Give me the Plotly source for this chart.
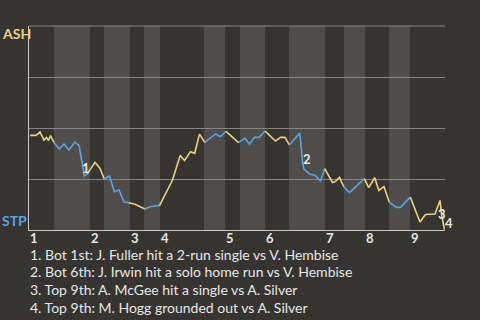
import plotly.graph_objects as go
from bisect import bisect_right

# ---- data ----
teams = ["ASH", "STP"]
# game progress (plate-appearance scale) and ASH win probability (%)
progress = [1, 7, 11, 15, 17.5, 19.5, 21.5, 25, 30.3, 35, 40, 46, 50, 53.3, 55.3, 58.3,
            66, 71, 75.3, 80.5, 85.3, 90, 95, 99.7, 106, 116, 121, 130.5, 143.5, 151.2,
            155.5, 161.5, 165.7, 170.5, 175.8, 186.5, 191, 197, 209.5, 216, 220.5, 225.5,
            230, 236, 246.5, 251.5, 256, 260.3, 270.8, 273.5, 275, 280.5, 286, 291.5,
            295.7, 303.5, 306.3, 310.5, 314.8, 320.5, 335.3, 339.7, 345.7, 349.8, 355,
            360.3, 367.5, 371.5, 381.3, 391, 396.5, 406, 411, 412.8, 415.5]
ash_wp = [46.4, 46.4, 48.0, 44.1, 45.3, 43.9, 46.3, 42.9, 39.7, 42.2, 39.2, 43.1, 41.5,
          32.4, 26.5, 27.5, 33.2, 30.2, 25.0, 26.5, 18.8, 19.6, 13.7, 13.4, 12.6, 10.3,
          11.4, 12.0, 24.5, 36.5, 34.1, 38.4, 37.6, 47.0, 42.9, 47.1, 45.7, 48.3, 42.8,
          45.0, 42.1, 45.4, 45.4, 48.5, 43.6, 45.4, 45.4, 41.7, 47.5, 33.5, 29.8, 27.5,
          26.8, 24.0, 30.1, 23.3, 23.7, 25.8, 21.2, 18.3, 25.2, 20.8, 25.6, 19.4, 21.3,
          13.6, 11.1, 11.1, 16.1, 3.9, 7.6, 7.8, 14.5, 6.9, 0.2]
# start of each half inning (top 1st, bot 1st, top 2nd, ...) on the progress scale
half_starts = [0, 25, 61, 75, 101, 115, 131, 175, 196, 211, 236, 260, 296, 315, 336, 360, 381]
game_end = 416
innings = ["1", "2", "3", "4", "5", "6", "7", "8", "9"]
event_points = [15, 49, 73, 74]
event_labels = ["1", "2", "3", "4"]
event_texts = [
    "1. Bot 1st: J. Fuller hit a 2-run single vs V. Hembise",
    "2. Bot 6th: J. Irwin hit a solo home run vs V. Hembise",
    "3. Top 9th: A. McGee hit a single vs A. Silver",
    "4. Top 9th: M. Hogg grounded out vs A. Silver",
]

# ---- style ----
BG = "#363430"
BAND = "#4e4d4b"
YELLOW = "#ecd07f"
BLUE = "#5ca3dc"
GRID = "#858585"
AXIS = "#c8c8c8"
TXT = "#e6e6e6"
FONT = "Lato"
team_colors = [YELLOW, BLUE]
event_shift = [(-1, 6), (4, 3), (0, 2), (4, 7)]

fig = go.Figure()

# segment colours follow the batting team of the half inning
def team_of(x):
    return (bisect_right(half_starts, x) - 1) % 2

runs = []
for k in range(1, len(progress)):
    t = team_of((progress[k - 1] + progress[k]) / 2)
    if runs and runs[-1][0] == t:
        runs[-1][2] = k
    else:
        runs.append([t, k - 1, k])

for t, a, b in runs:
    fig.add_trace(go.Scatter(
        x=progress[a:b + 1], y=ash_wp[a:b + 1], mode="lines",
        line=dict(color=team_colors[t], width=1.6), hoverinfo="skip", showlegend=False))

# bottom-half shading
shapes = []
bounds = half_starts + [game_end]
for i in range(1, len(half_starts), 2):
    shapes.append(dict(type="rect", xref="x", yref="paper", x0=bounds[i], x1=bounds[i + 1],
                       y0=0, y1=1, fillcolor=BAND, line=dict(width=0), layer="below"))
# top border line (grid colour)
shapes.append(dict(type="line", xref="paper", yref="paper", x0=0, x1=1, y0=1, y1=1,
                   line=dict(color=GRID, width=1), layer="above"))

ann = []
# inning labels
for i, lab in enumerate(innings):
    ann.append(dict(x=half_starts[2 * i], y=0, xref="x", yref="paper", text=lab,
                    showarrow=False, xanchor="left", yanchor="top", xshift=-1, yshift=2,
                    font=dict(family=FONT, size=13, color=TXT, weight="bold")))
# team labels
ann.append(dict(x=0, y=1, xref="paper", yref="paper", text=teams[0], showarrow=False,
                xanchor="left", yanchor="middle", xshift=-29, yshift=-7,
                font=dict(family=FONT, size=14, color=YELLOW, weight="bold")))
ann.append(dict(x=0, y=0, xref="paper", yref="paper", text=teams[1], showarrow=False,
                xanchor="left", yanchor="middle", xshift=-29, yshift=10,
                font=dict(family=FONT, size=14, color=BLUE, weight="bold")))
# event markers
for (p, lab, (dx, dy)) in zip(event_points, event_labels, event_shift):
    ann.append(dict(x=progress[p], y=ash_wp[p], xref="x", yref="y", text=lab,
                    showarrow=False, xanchor="center", yanchor="middle",
                    xshift=dx, yshift=dy,
                    font=dict(family=FONT, size=13, color=TXT, weight="bold")))
# event descriptions
for i, txt in enumerate(event_texts):
    ann.append(dict(x=0, y=0, xref="paper", yref="paper", text=txt, showarrow=False,
                    xanchor="left", yanchor="middle", xshift=-1, yshift=-24 - 17.7 * i,
                    font=dict(family=FONT, size=14, color=TXT)))

fig.update_layout(
    width=480, height=320,
    margin=dict(l=29, r=35, t=26, b=90),
    paper_bgcolor=BG, plot_bgcolor=BG,
    shapes=shapes, annotations=ann,
    xaxis=dict(range=[0, game_end], showgrid=False, zeroline=False, showticklabels=False,
               showline=True, linecolor=AXIS, linewidth=1, ticks="", fixedrange=True),
    yaxis=dict(range=[0, 100], tickvals=[0, 25, 50, 75, 100], showgrid=True, gridcolor=GRID,
               gridwidth=1, zeroline=False, showticklabels=False, showline=True,
               linecolor=AXIS, linewidth=1, ticks="", fixedrange=True),
    showlegend=False,
)

fig.write_html("out.html", config={"displayModeBar": False})
